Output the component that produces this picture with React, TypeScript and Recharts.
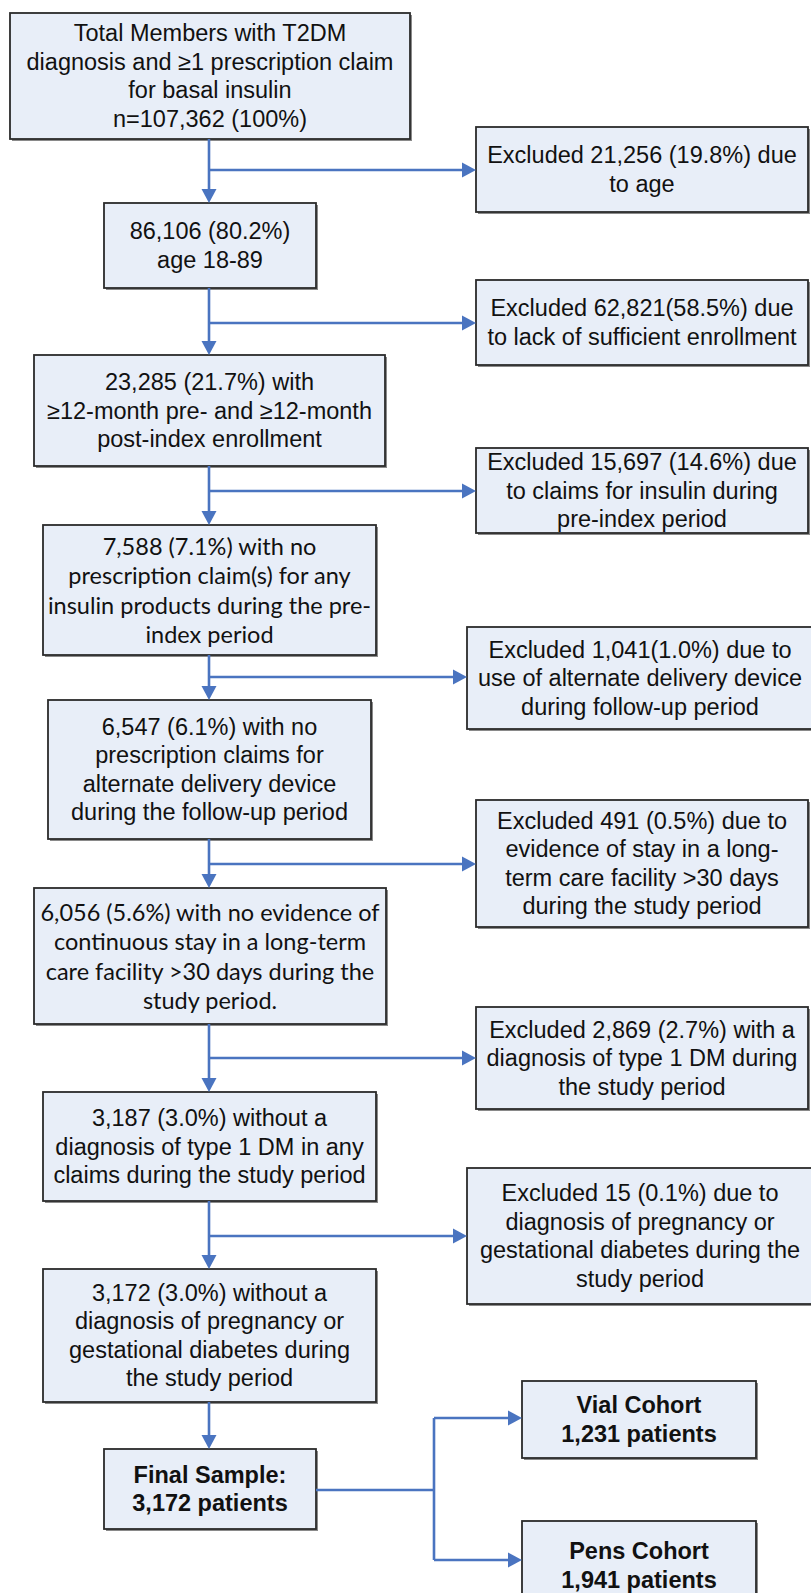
import React from 'react';
import { ComposedChart, XAxis, YAxis, ReferenceArea, ReferenceLine } from 'recharts';

// ---- content ----
const mainLabels: string[][] = [
  ['Total Members with T2DM', 'diagnosis and \u22651 prescription claim', 'for basal insulin', 'n=107,362 (100%)'],
  ['86,106 (80.2%)', 'age 18-89'],
  ['23,285 (21.7%) with', '\u226512-month pre- and \u226512-month', 'post-index enrollment'],
  ['7,588 (7.1%) with no', 'prescription claim(s) for any', 'insulin products during the pre-', 'index period'],
  ['6,547 (6.1%) with no', 'prescription claims for', 'alternate delivery device', 'during the follow-up period'],
  ['6,056 (5.6%) with no evidence of', 'continuous stay in a long-term', 'care facility >30 days during the', 'study period.'],
  ['3,187 (3.0%) without a', 'diagnosis of type 1 DM in any', 'claims during the study period'],
  ['3,172 (3.0%) without a', 'diagnosis of pregnancy or', 'gestational diabetes during', 'the study period'],
  ['Final Sample:', '3,172 patients'],
];
const excludedLabels: string[][] = [
  ['Excluded 21,256 (19.8%) due', 'to age'],
  ['Excluded 62,821(58.5%) due', 'to lack of sufficient enrollment'],
  ['Excluded 15,697 (14.6%) due', 'to claims for insulin during', 'pre-index period'],
  ['Excluded 1,041(1.0%) due to', 'use of alternate delivery device', 'during follow-up period'],
  ['Excluded 491 (0.5%) due to', 'evidence of stay in a long-', 'term care facility >30 days', 'during the study period'],
  ['Excluded 2,869 (2.7%) with a', 'diagnosis of type 1 DM during', 'the study period'],
  ['Excluded 15 (0.1%) due to', 'diagnosis of pregnancy or', 'gestational diabetes during the', 'study period'],
];
const cohortLabels: string[][] = [
  ['Vial Cohort', '1,231 patients'],
  ['Pens Cohort', '1,941 patients'],
];

// ---- layout (diagram units) ----
const mainX1 = [10, 104, 34, 43, 48, 34, 43, 43, 104];
const mainX2 = [410, 316, 385, 376, 371, 386, 376, 376, 316];
const mainY1 = [13, 203, 355, 525, 700, 888, 1092, 1269, 1449];
const mainY2 = [139, 288, 466, 655, 839, 1024, 1201, 1402, 1529];
const mainCalibri = [false, false, false, true, false, true, false, false, false];
const exclX1 = [476, 476, 476, 467, 476, 476, 467];
const exclX2 = [808, 808, 808, 813, 808, 808, 813];
const exclY1 = [127, 280, 448, 627, 800, 1007, 1168];
const exclY2 = [212, 365, 533, 729, 927, 1109, 1304];
const branchY = [170, 323, 491, 677, 864, 1058, 1236];
const cohortX1 = [522, 522];
const cohortX2 = [756, 756];
const cohortY1 = [1381, 1521];
const cohortY2 = [1458, 1610];
const cohortArrowY = [1418, 1560];
const trunkX = 209;
const splitX = 434;
const splitY = 1490;

const W = 811;
const H = 1593;
const BLUE = '#4a74c0';
const FILL = '#e8eef8';
const ARIAL = "'Liberation Sans', Arial, sans-serif";
const CALIBRI = "Lato, 'Open Sans', sans-serif";

const Box = (props: any) => {
  const { x, y, width, height, lines, bold, calibri } = props;
  const lh = calibri ? 29.5 : 28.5;
  const cx = x + width / 2;
  const cy = y + height / 2;
  const start = cy - ((lines.length - 1) * lh) / 2;
  return (
    <g>
      <rect x={x + 2} y={y + 2} width={width} height={height} fill="#8a8a8a" />
      <rect x={x} y={y} width={width} height={height} fill={FILL} stroke="#2b2b2b" strokeWidth={1.8} />
      {lines.map((t: string, i: number) => (
        <text
          key={i}
          x={cx}
          y={start + i * lh}
          textAnchor="middle"
          dominantBaseline="central"
          fontFamily={calibri ? CALIBRI : ARIAL}
          fontSize={calibri ? 23.5 : 23.5}
          fontWeight={bold ? 'bold' : 'normal'}
          fill="#111"
        >
          {t}
        </text>
      ))}
    </g>
  );
};

const Arrow = (props: any) => {
  const { x1, y1, x2, y2, head } = props;
  const dx = x2 - x1;
  const dy = y2 - y1;
  const len = Math.sqrt(dx * dx + dy * dy) || 1;
  const ux = dx / len;
  const uy = dy / len;
  const hl = head ? 14 : 0;
  const hw = 7.5;
  const bx = x2 - ux * hl;
  const by = y2 - uy * hl;
  return (
    <g>
      <line x1={x1} y1={y1} x2={bx} y2={by} stroke={BLUE} strokeWidth={2.6} />
      {head ? (
        <polygon
          points={`${x2},${y2} ${bx - uy * hw},${by + ux * hw} ${bx + uy * hw},${by - ux * hw}`}
          fill={BLUE}
        />
      ) : null}
    </g>
  );
};

const seg = (ax: number, ay: number, bx: number, by: number) => [
  { x: ax, y: ay },
  { x: bx, y: by },
];

export default function App() {
  const trunk = mainLabels.slice(0, -1).map((_, i) => seg(trunkX, mainY2[i], trunkX, mainY1[i + 1]));
  const branches = excludedLabels.map((_, i) => seg(trunkX, branchY[i], exclX1[i], branchY[i]));
  const last = mainLabels.length - 1;
  return (
    <div style={{ position: 'absolute', left: 0, top: 0, width: W, height: H, background: '#fff' }}>
      <ComposedChart width={W} height={H} data={[{ x: 0, y: 0 }]} margin={{ top: 0, right: 0, bottom: 0, left: 0 }}>
        <XAxis type="number" dataKey="x" domain={[0, W]} hide allowDataOverflow />
        <YAxis type="number" dataKey="y" domain={[0, H]} reversed hide allowDataOverflow />
        {trunk.map((s, i) => (
          <ReferenceLine key={'t' + i} segment={s} ifOverflow="visible" shape={(p: any) => <Arrow {...p} head />} />
        ))}
        {branches.map((s, i) => (
          <ReferenceLine key={'b' + i} segment={s} ifOverflow="visible" shape={(p: any) => <Arrow {...p} head />} />
        ))}
        <ReferenceLine
          segment={seg(mainX2[last], splitY, splitX, splitY)}
          ifOverflow="visible"
          shape={(p: any) => <Arrow {...p} />}
        />
        <ReferenceLine
          segment={seg(splitX, cohortArrowY[0], splitX, cohortArrowY[1])}
          ifOverflow="visible"
          shape={(p: any) => <Arrow {...p} />}
        />
        {cohortLabels.map((_, i) => (
          <ReferenceLine
            key={'c' + i}
            segment={seg(splitX, cohortArrowY[i], cohortX1[i], cohortArrowY[i])}
            ifOverflow="visible"
            shape={(p: any) => <Arrow {...p} head />}
          />
        ))}
        {mainLabels.map((lines, i) => (
          <ReferenceArea
            key={'m' + i}
            x1={mainX1[i]}
            x2={mainX2[i]}
            y1={mainY1[i]}
            y2={mainY2[i]}
            ifOverflow="visible"
            shape={(p: any) => <Box {...p} lines={lines} bold={i === last} calibri={mainCalibri[i]} />}
          />
        ))}
        {excludedLabels.map((lines, i) => (
          <ReferenceArea
            key={'e' + i}
            x1={exclX1[i]}
            x2={exclX2[i]}
            y1={exclY1[i]}
            y2={exclY2[i]}
            ifOverflow="visible"
            shape={(p: any) => <Box {...p} lines={lines} />}
          />
        ))}
        {cohortLabels.map((lines, i) => (
          <ReferenceArea
            key={'v' + i}
            x1={cohortX1[i]}
            x2={cohortX2[i]}
            y1={cohortY1[i]}
            y2={cohortY2[i]}
            ifOverflow="visible"
            shape={(p: any) => <Box {...p} lines={lines} bold />}
          />
        ))}
      </ComposedChart>
    </div>
  );
}
